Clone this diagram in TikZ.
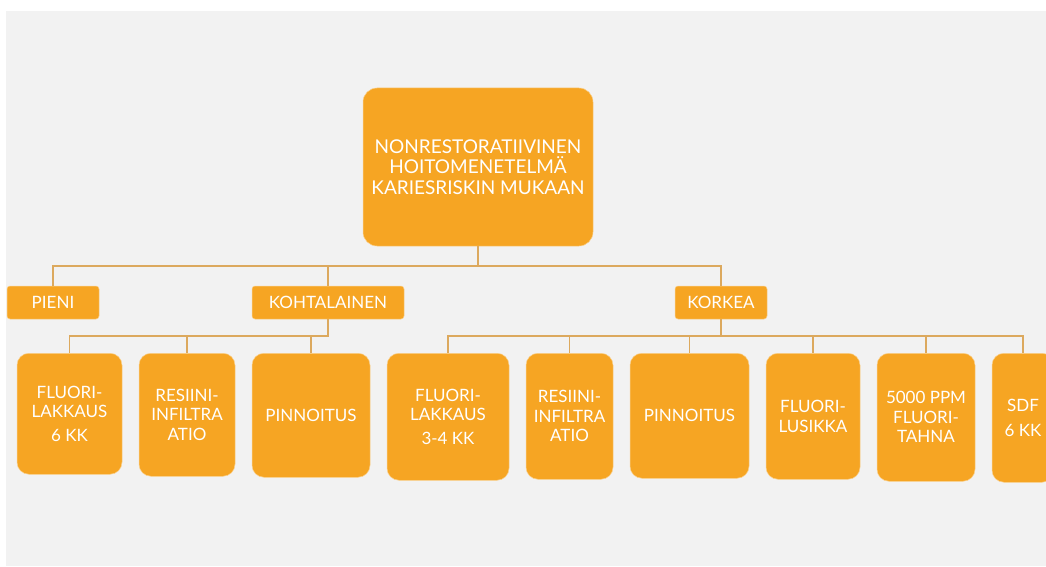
\documentclass[tikz,border=0pt]{standalone}
\usepackage{fontspec}
\setmainfont{Lato}
\begin{document}
\begin{tikzpicture}[x=1pt,y=-1pt,font=\fontsize{17}{19.5}\selectfont,
  riskbox/.style={fill=boxfill,draw=boxedge,line width=0.5pt,rounded corners=12pt,
    text=white,align=center,inner sep=0pt},
  link/.style={draw=linkc,line width=1.7pt}]
  \definecolor{paper}{HTML}{F2F2F2}
  \definecolor{boxfill}{HTML}{F6A523}
  \definecolor{boxedge}{HTML}{FAD08C}
  \definecolor{linkc}{HTML}{DCA95E}
  \path[use as bounding box] (0,0) rectangle (1046,567);
  \fill[paper] (6,11) rectangle (1046,566);
  % top
  \node[riskbox,rounded corners=14pt,minimum width=230pt,minimum height=158pt,
        font=\fontsize{19}{20.5}\selectfont] (root) at (478,167)
    {NONRESTORATIIVINEN\\HOITOMENETELMÄ\\KARIESRISKIN MUKAAN};
  % risk levels
  \foreach \nm/\cx/\w/\lab in {pieni/53/92/PIENI,koht/328/152/KOHTALAINEN,korkea/721/92/KORKEA}{
    \node[riskbox,rounded corners=3pt,minimum width=\w pt,minimum height=33pt] (\nm) at (\cx,302.5) {\lab};
    \draw[link] (root.south) -- ++(0,20) -| (\nm.north);
  }
  % treatments
  \foreach \nm/\up/\cx/\w/\h/\lab in {
      f6/koht/69.5/105/121/{FLUORI-\\LAKKAUS\\[4pt]6 KK},
      r1/koht/187/96/123/{RESIINI-\\INFILTRA\\ATIO},
      p1/koht/311/118/124/{PINNOITUS},
      f34/korkea/448/122/127/{FLUORI-\\LAKKAUS\\[4pt]3-4 KK},
      r2/korkea/569.5/87/126/{RESIINI-\\INFILTRA\\ATIO},
      p2/korkea/689.5/119/125/{PINNOITUS},
      fl/korkea/813/94/126/{FLUORI-\\LUSIKKA},
      ppm/korkea/926/98/128/{5000 PPM\\FLUORI-\\TAHNA},
      sdf/korkea/1023/62/129/{SDF\\[6pt]6 KK}}{
    \node[riskbox,anchor=north,minimum width=\w pt,minimum height=\h pt] (\nm) at (\cx,353) {\lab};
    \draw[link] (\up.south) -- ++(0,17) -| (\nm.north);
  }
\end{tikzpicture}
\end{document}
